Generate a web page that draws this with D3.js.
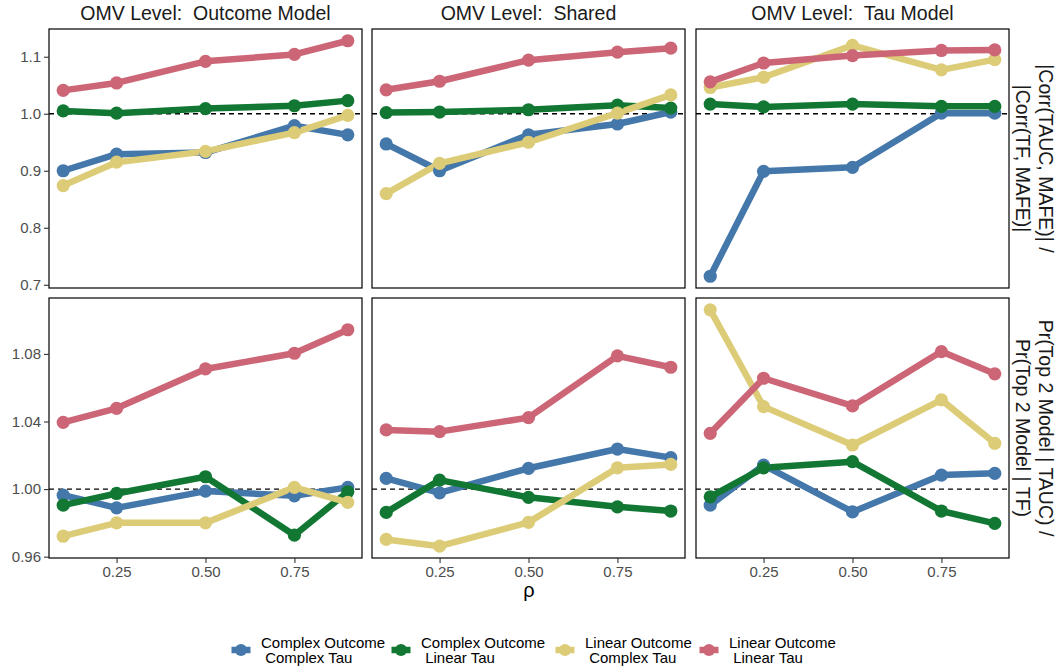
<!DOCTYPE html>
<html>
<head>
<meta charset="utf-8">
<script src="https://cdn.jsdelivr.net/npm/d3@7"></script>
<style>
  html, body { margin: 0; padding: 0; background: #ffffff; }
  svg { display: block; font-family: "Liberation Sans", Arial, Helvetica, sans-serif; }
  text { white-space: pre; }
</style>
</head>
<body>
<svg id="chart" width="1064" height="671"></svg>
<script>
// rho values on the x axis
const rho = [0.1, 0.25, 0.5, 0.75, 0.9];

// facet columns and rows
const omvLevels = ["Outcome Model", "Shared", "Tau Model"];
const metricRows = [
  ["|Corr(TAUC, MAFE)| /", "|Corr(TF, MAFE)|"],
  ["Pr(Top 2 Model | TAUC) /", "Pr(Top 2 Model | TF)"]
];

// series (drawing order) and legend labels
const seriesKeys = ["ccTau", "clTau", "lcTau", "llTau"];
const seriesLabels = [
  ["Complex Outcome", " Complex Tau"],
  ["Complex Outcome", " Linear Tau"],
  ["Linear Outcome", " Complex Tau"],
  ["Linear Outcome", " Linear Tau"]
];
const seriesColors = ["#4477AA", "#117733", "#DDCC77", "#CC6677"];

// Row 1: correlation ratio, one array per OMV level
const corrOutcome = {
  ccTau: [0.900, 0.929, 0.932, 0.979, 0.963],
  clTau: [1.005, 1.001, 1.009, 1.014, 1.023],
  lcTau: [0.874, 0.915, 0.934, 0.967, 0.997],
  llTau: [1.041, 1.054, 1.092, 1.104, 1.128]
};
const corrShared = {
  ccTau: [0.947, 0.900, 0.963, 0.982, 1.003],
  clTau: [1.002, 1.003, 1.007, 1.015, 1.010],
  lcTau: [0.860, 0.913, 0.950, 1.001, 1.033],
  llTau: [1.042, 1.057, 1.094, 1.108, 1.115]
};
const corrTau = {
  ccTau: [0.715, 0.899, 0.906, 1.001, 1.001],
  clTau: [1.017, 1.012, 1.017, 1.013, 1.013],
  lcTau: [1.046, 1.064, 1.120, 1.077, 1.095],
  llTau: [1.056, 1.089, 1.102, 1.111, 1.112]
};

// Row 2: top-2 probability ratio, one array per OMV level
const top2Outcome = {
  ccTau: [0.9964, 0.9889, 0.9988, 0.9960, 1.0010],
  clTau: [0.9905, 0.9974, 1.0073, 0.9727, 0.9984],
  lcTau: [0.9721, 0.9800, 0.9800, 1.0010, 0.9921],
  llTau: [1.0395, 1.0478, 1.0711, 1.0804, 1.0943]
};
const top2Shared = {
  ccTau: [1.0063, 0.9978, 1.0123, 1.0237, 1.0186],
  clTau: [0.9862, 1.0053, 0.9951, 0.9895, 0.9870],
  lcTau: [0.9702, 0.9662, 0.9803, 1.0126, 1.0146],
  llTau: [1.0350, 1.0340, 1.0423, 1.0788, 1.0721]
};
const top2Tau = {
  ccTau: [0.9905, 1.0142, 0.9865, 1.0083, 1.0093],
  clTau: [0.9954, 1.0126, 1.0162, 0.9870, 0.9797],
  lcTau: [1.1061, 1.0488, 1.0261, 1.0528, 1.0271],
  llTau: [1.0330, 1.0656, 1.0492, 1.0814, 1.0682]
};

// tick values / labels
const xTicks = [0.25, 0.5, 0.75];
const xTickLabels = ["0.25", "0.50", "0.75"];
const yTicksRow1 = [0.7, 0.8, 0.9, 1.0, 1.1];
const yTickLabelsRow1 = ["0.7", "0.8", "0.9", "1.0", "1.1"];
const yTicksRow2 = [0.96, 1.00, 1.04, 1.08];
const yTickLabelsRow2 = ["0.96", "1.00", "1.04", "1.08"];
const referenceLevel = 1.0;

const panelData = [
  [corrOutcome, corrShared, corrTau],
  [top2Outcome, top2Shared, top2Tau]
];
const rowTicks = [[yTicksRow1, yTickLabelsRow1], [yTicksRow2, yTickLabelsRow2]];

// ---- layout ----
const svg = d3.select("#chart");
const colX = [[49, 362], [372, 685], [696, 1009]];
const rowY = [[29, 288], [298, 558]];
const lineW = 6.5, pointR = 6.6;

// ggplot-like 5% expansion of a continuous range
function expand(ext, m = 0.05) {
  const d = ext[1] - ext[0];
  return [ext[0] - m * d, ext[1] + m * d];
}

const xDomain = expand(d3.extent(rho));
const rowDomains = panelData.map(row => {
  const all = row.flatMap(p => seriesKeys.flatMap(k => p[k]));
  return expand(d3.extent(all));
});

panelData.forEach((row, ri) => {
  const [y0, y1] = rowY[ri];
  const y = d3.scaleLinear().domain(rowDomains[ri]).range([y1, y0]);

  row.forEach((pd, ci) => {
    const [x0, x1] = colX[ci];
    const x = d3.scaleLinear().domain(xDomain).range([x0, x1]);
    const g = svg.append("g");

    // clip region for the panel
    const clipId = `clip-${ri}-${ci}`;
    g.append("clipPath").attr("id", clipId)
      .append("rect").attr("x", x0).attr("y", y0).attr("width", x1 - x0).attr("height", y1 - y0);

    const inner = g.append("g").attr("clip-path", `url(#${clipId})`);

    // reference line at 1
    inner.append("line")
      .attr("x1", x0).attr("x2", x1)
      .attr("y1", y(referenceLevel)).attr("y2", y(referenceLevel))
      .attr("stroke", "#000").attr("stroke-width", 1.4)
      .attr("stroke-dasharray", "5,4");

    const line = d3.line().x((d, i) => x(rho[i])).y(d => y(d));

    // lines for every series first, then points
    seriesKeys.forEach((k, si) => {
      inner.append("path")
        .datum(pd[k])
        .attr("d", line)
        .attr("fill", "none")
        .attr("stroke", seriesColors[si])
        .attr("stroke-width", lineW)
        .attr("stroke-linejoin", "round");
    });
    seriesKeys.forEach((k, si) => {
      inner.selectAll(null)
        .data(pd[k])
        .enter().append("circle")
        .attr("cx", (d, i) => x(rho[i]))
        .attr("cy", d => y(d))
        .attr("r", pointR)
        .attr("fill", seriesColors[si]);
    });

    // panel border
    g.append("rect")
      .attr("x", x0).attr("y", y0).attr("width", x1 - x0).attr("height", y1 - y0)
      .attr("fill", "none").attr("stroke", "#000").attr("stroke-width", 1.2);

    // y axis on the first column
    if (ci === 0) {
      const [vals, labs] = rowTicks[ri];
      const ax = d3.axisLeft(y).tickValues(vals)
        .tickFormat((d, i) => labs[i]).tickSize(5).tickPadding(3);
      const axg = g.append("g").attr("transform", `translate(${x0},0)`).call(ax);
      axg.select(".domain").remove();
      axg.selectAll(".tick line").attr("stroke", "#333").attr("stroke-width", 1.1);
      axg.selectAll(".tick text").attr("fill", "#4d4d4d")
        .style("font-size", "15px").style("font-family", "Liberation Sans, Arial, sans-serif");
    }

    // x axis on the bottom row
    if (ri === panelData.length - 1) {
      const ax = d3.axisBottom(x).tickValues(xTicks)
        .tickFormat((d, i) => xTickLabels[i]).tickSize(5).tickPadding(3);
      const axg = g.append("g").attr("transform", `translate(0,${y1})`).call(ax);
      axg.select(".domain").remove();
      axg.selectAll(".tick line").attr("stroke", "#333").attr("stroke-width", 1.1);
      axg.selectAll(".tick text").attr("fill", "#4d4d4d")
        .style("font-size", "15px").style("font-family", "Liberation Sans, Arial, sans-serif");
    }

    // column strip labels
    if (ri === 0) {
      svg.append("text")
        .attr("x", (x0 + x1) / 2).attr("y", 20)
        .attr("text-anchor", "middle")
        .attr("fill", "#1a1a1a")
        .style("font-size", "19.5px")
        .text(`OMV Level:  ${omvLevels[ci]}`);
    }
  });

  // row strip labels, rotated, first line on the right
  const cy = (rowY[ri][0] + rowY[ri][1]) / 2;
  metricRows[ri].forEach((txt, li) => {
    svg.append("text")
      .attr("transform", `translate(${1046 - li * 23.5},${cy}) rotate(90)`)
      .attr("text-anchor", "middle")
      .attr("dominant-baseline", "central")
      .attr("fill", "#1a1a1a")
      .style("font-size", "19.5px")
      .text(txt);
  });
});

// x axis title
svg.append("text")
  .attr("x", (colX[0][0] + colX[2][1]) / 2).attr("y", 597)
  .attr("text-anchor", "middle")
  .attr("fill", "#000")
  .style("font-size", "20px")
  .text("ρ");

// legend
const legendKeyX = [241, 401, 565, 709];
const legendY = 650;
const legend = svg.append("g");
seriesKeys.forEach((k, si) => {
  const cx = legendKeyX[si];
  legend.append("line")
    .attr("x1", cx - 9.5).attr("x2", cx + 9.5)
    .attr("y1", legendY).attr("y2", legendY)
    .attr("stroke", seriesColors[si]).attr("stroke-width", lineW);
  legend.append("circle")
    .attr("cx", cx).attr("cy", legendY).attr("r", 6)
    .attr("fill", seriesColors[si]);
  const t = legend.append("text")
    .attr("fill", "#000")
    .style("font-size", "15px");
  seriesLabels[si].forEach((s, li) => {
    t.append("tspan")
      .attr("x", cx + 20)
      .attr("y", legendY - 8 + li * 15.5)
      .attr("dominant-baseline", "central")
      .text(s);
  });
});
</script>
</body>
</html>
